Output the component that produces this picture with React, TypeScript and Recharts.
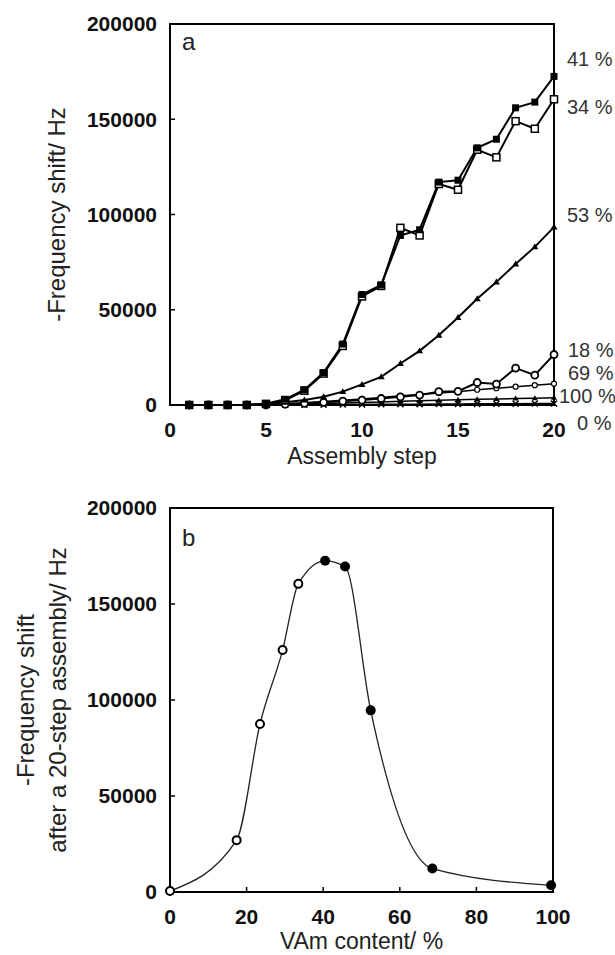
import React from 'react';
import {
  LineChart,
  Line,
  ComposedChart,
  Scatter,
  XAxis,
  YAxis,
  ReferenceArea,
} from 'recharts';

// panel a: assembly steps and frequency shift per VAm content
const STEPS = [1, 2, 3, 4, 5, 6, 7, 8, 9, 10, 11, 12, 13, 14, 15, 16, 17, 18, 19, 20];
const S41 = [0, 0, 0, 0, 700, 3000, 8000, 17000, 32000, 58000, 63000, 89000, 92000, 117000, 118000, 135000, 139500, 156000, 159000, 172500];
const S34 = [0, 0, 0, 0, 600, 2500, 7500, 16500, 31000, 57000, 62500, 93000, 89000, 116000, 113000, 134000, 130000, 149000, 145000, 160500];
const S53 = [0, 0, 0, 0, 800, 1500, 2600, 4300, 7000, 10800, 14800, 21800, 28400, 36600, 45900, 55800, 64600, 74000, 83000, 93400];
const S18 = [0, 0, 0, 0, 0, 400, 900, 1400, 2000, 2600, 3400, 4300, 5200, 7000, 7200, 11800, 11000, 19400, 15700, 26500];
const S69 = [0, 0, 0, 0, 0, 600, 1200, 1800, 2500, 3200, 4000, 4800, 5500, 6300, 7000, 8000, 8800, 9600, 10400, 11200];
const S100 = [0, 0, 0, 0, 0, 300, 500, 800, 1000, 1300, 1600, 2000, 2200, 2500, 2700, 3000, 3200, 3400, 3600, 3800];
const S0 = [0, 0, 0, 0, 0, 100, 150, 200, 250, 300, 350, 400, 450, 500, 550, 600, 650, 700, 750, 800];
const END_LABELS = ['41 %', '34 %', '53 %', '18 %', '69 %', '100 %', '0 %'];

// panel b: shift after 20 steps vs VAm content
const OPEN_X = [0, 17.4, 23.5, 29.4, 33.5];
const OPEN_Y = [500, 27000, 87500, 126000, 160500];
const FILLED_X = [40.5, 45.7, 52.4, 68.5, 99.5];
const FILLED_Y = [172500, 169500, 94600, 12200, 3500];

const Y_TICKS = [0, 50000, 100000, 150000, 200000];
const STEP_TICKS = [0, 5, 10, 15, 20];
const VAM_TICKS = [0, 20, 40, 60, 80, 100];

const FONT = '"Liberation Sans", Arial, Helvetica, sans-serif';

const stepData = STEPS.map((step, i) => ({
  step,
  s41: S41[i],
  s34: S34[i],
  s53: S53[i],
  s18: S18[i],
  s69: S69[i],
  s100: S100[i],
  s0: S0[i],
}));

const openPts = OPEN_X.map((x, i) => ({ x, y: OPEN_Y[i] }));
const filledPts = FILLED_X.map((x, i) => ({ x, y: FILLED_Y[i] }));
const curvePts = [...openPts, ...filledPts].sort((a, b) => a.x - b.x);

// marker shapes
const filledSquare = (p: any) => (
  <rect key={p.index} x={p.cx - 3.5} y={p.cy - 3.5} width={7} height={7} fill="#000" />
);
const openSquare = (p: any) => (
  <rect key={p.index} x={p.cx - 3.5} y={p.cy - 3.5} width={7} height={7} fill="#fff" stroke="#000" strokeWidth={1.5} />
);
const triangle = (size: number) => (p: any) => (
  <polygon
    key={p.index}
    points={`${p.cx},${p.cy - size} ${p.cx - size},${p.cy + size * 0.7} ${p.cx + size},${p.cy + size * 0.7}`}
    fill="#000"
  />
);
const ring = (r: number, w: number) => (p: any) => (
  <circle key={p.index} cx={p.cx} cy={p.cy} r={r} fill="#fff" stroke="#000" strokeWidth={w} />
);
const cross = (p: any) => (
  <path
    key={p.index}
    d={`M${p.cx - 3},${p.cy - 3}L${p.cx + 3},${p.cy + 3}M${p.cx - 3},${p.cy + 3}L${p.cx + 3},${p.cy - 3}`}
    stroke="#000"
    strokeWidth={1.5}
  />
);

const axisProps = {
  tick: { fontSize: 21, fontWeight: 'bold', fill: '#111', fontFamily: FONT },
  tickSize: -5,
  tickLine: { stroke: '#000', strokeWidth: 1.5 },
  axisLine: { stroke: '#000', strokeWidth: 2 },
};

const yTitle = (lines: string[], xs: number[]) => (props: any) => {
  const vb = props.viewBox || {};
  const cy = vb.height ? vb.y + vb.height / 2 : 215;
  return (
    <g>
      {lines.map((t, i) => (
        <text
          key={i}
          x={xs[i]}
          y={cy}
          transform={`rotate(-90 ${xs[i]} ${cy})`}
          textAnchor="middle"
          fontSize={24}
          fill="#222"
          fontFamily={FONT}
        >
          {t}
        </text>
      ))}
    </g>
  );
};

const LABEL_TOPS = [59, 107, 215, 350, 373, 396, 423];
const LABEL_LEFT = [567, 567, 567, 568, 568, 559, 577];

export default function App() {
  return (
    <div style={{ position: 'absolute', left: 0, top: 0, width: 615, height: 955, background: '#fff', fontFamily: FONT }}>
      <div style={{ position: 'absolute', left: 0, top: 0 }}>
        <LineChart width={615} height={470} data={stepData} margin={{ top: 24, right: 61, left: 0, bottom: 0 }}>
          <XAxis
            dataKey="step"
            type="number"
            domain={[0, 20]}
            ticks={STEP_TICKS}
            interval={0}
            height={65}
            tickMargin={22}
            {...axisProps}
            label={{ value: 'Assembly step', position: 'insideBottom', offset: 6, fontSize: 23, fill: '#222', fontFamily: FONT }}
          />
          <YAxis
            type="number"
            domain={[0, 200000]}
            ticks={Y_TICKS}
            interval={0}
            width={170}
            tickMargin={18}
            {...axisProps}
            label={{ content: yTitle(['-Frequency shift/ Hz'], [65]) }}
          />
          <ReferenceArea x1={0} x2={20} y1={0} y2={200000} fill="none" stroke="#000" strokeWidth={2} />
          <Line dataKey="s0" stroke="#000" strokeWidth={1.5} dot={cross} isAnimationActive={false} />
          <Line dataKey="s100" stroke="#000" strokeWidth={1.5} dot={triangle(3)} isAnimationActive={false} />
          <Line dataKey="s69" stroke="#000" strokeWidth={1.5} dot={ring(2.5, 1.2)} isAnimationActive={false} />
          <Line dataKey="s18" stroke="#000" strokeWidth={2} dot={ring(3.5, 1.8)} isAnimationActive={false} />
          <Line dataKey="s53" stroke="#000" strokeWidth={2} dot={triangle(3.5)} isAnimationActive={false} />
          <Line dataKey="s34" stroke="#000" strokeWidth={2} dot={openSquare} isAnimationActive={false} />
          <Line dataKey="s41" stroke="#000" strokeWidth={2} dot={filledSquare} isAnimationActive={false} />
        </LineChart>
      </div>

      <div style={{ position: 'absolute', left: 0, top: 470 }}>
        <ComposedChart width={615} height={485} margin={{ top: 38, right: 62, left: 0, bottom: 0 }}>
          <XAxis
            dataKey="x"
            type="number"
            domain={[0, 100]}
            ticks={VAM_TICKS}
            interval={0}
            height={63}
            tickMargin={22}
            {...axisProps}
            label={{ value: 'VAm content/ %', position: 'insideBottom', offset: 6, fontSize: 23, fill: '#222', fontFamily: FONT }}
          />
          <YAxis
            type="number"
            domain={[0, 200000]}
            ticks={Y_TICKS}
            interval={0}
            width={170}
            tickMargin={18}
            {...axisProps}
            label={{ content: yTitle(['-Frequency shift', 'after a 20-step assembly/ Hz'], [34, 66]) }}
          />
          <ReferenceArea x1={0} x2={100} y1={0} y2={200000} fill="none" stroke="#000" strokeWidth={2} />
          <Line data={curvePts} dataKey="y" type="monotone" stroke="#222" strokeWidth={1.3} dot={false} isAnimationActive={false} />
          <Scatter
            data={openPts}
            dataKey="y"
            isAnimationActive={false}
            shape={(p: any) => <circle cx={p.cx} cy={p.cy} r={4} fill="#fff" stroke="#000" strokeWidth={2} />}
          />
          <Scatter
            data={filledPts}
            dataKey="y"
            isAnimationActive={false}
            shape={(p: any) => <circle cx={p.cx} cy={p.cy} r={5} fill="#000" />}
          />
        </ComposedChart>
      </div>

      <svg width={615} height={955} style={{ position: 'absolute', left: 0, top: 0, pointerEvents: 'none' }}>
        <text x={182} y={50} fontSize={24} fill="#222" fontFamily={FONT}>a</text>
        <text x={182} y={546} fontSize={24} fill="#222" fontFamily={FONT}>b</text>
        {END_LABELS.map((t, i) => (
          <text key={t} x={LABEL_LEFT[i]} y={LABEL_TOPS[i] + 7} fontSize={20} fill="#333" fontFamily={FONT}>
            {t}
          </text>
        ))}
      </svg>
    </div>
  );
}
